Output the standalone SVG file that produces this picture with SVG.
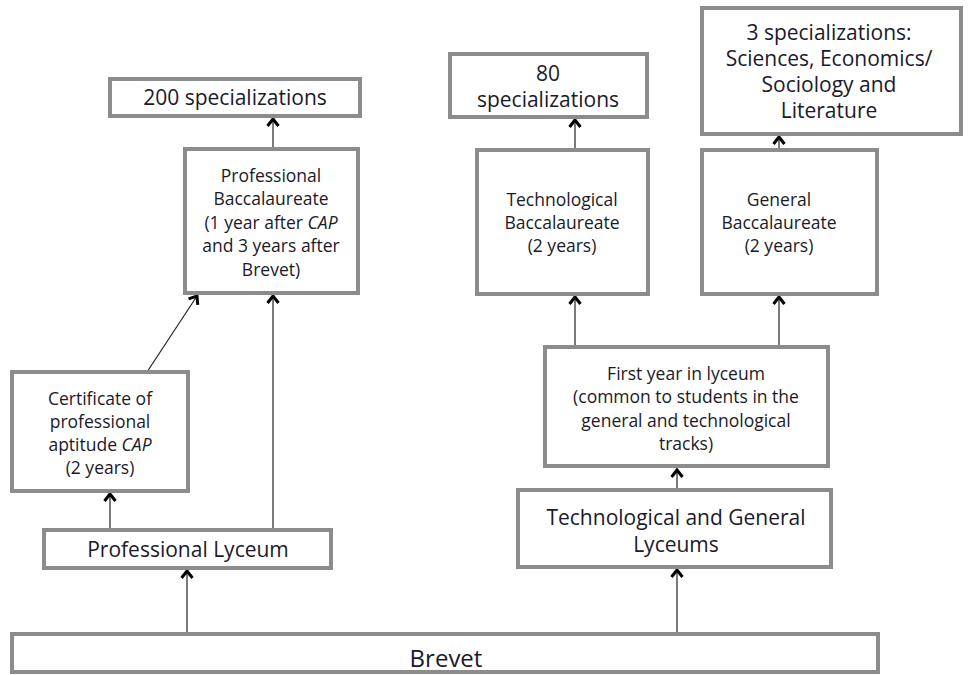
<svg xmlns="http://www.w3.org/2000/svg" width="980" height="675" viewBox="0 0 980 675">
<style>
.box{fill:#fff;stroke:#8c8c8c;stroke-width:4}
.t{font-family:"Open Sans","Liberation Sans",sans-serif;fill:#1a1a2a;text-anchor:middle}
.s{font-size:17.5px}
.l{font-size:21px}
.c{stroke:#222;stroke-width:1.2;fill:none;marker-end:url(#ah)}
</style>
<defs>
<marker id="ah" markerUnits="userSpaceOnUse" markerWidth="16" markerHeight="12" viewBox="-8 -2 16 12" refX="0" refY="0" orient="auto-start-reverse" overflow="visible">
<path d="M-5.5,7 L0,0 L5.5,7" transform="rotate(90)" fill="none" stroke="#000" stroke-width="3"/>
</marker>
</defs>
<rect width="980" height="675" fill="#fff"/>
<g id="connectors">
<line class="c" x1="187" y1="634" x2="187" y2="571"/>
<line class="c" x1="677" y1="634" x2="677" y2="570"/>
<line class="c" x1="110" y1="530" x2="110" y2="494"/>
<line class="c" x1="147" y1="372" x2="197" y2="296"/>
<line class="c" x1="273" y1="530" x2="273" y2="296"/>
<line class="c" x1="273" y1="149" x2="273" y2="119"/>
<line class="c" x1="677" y1="490" x2="677" y2="470"/>
<line class="c" x1="575" y1="347" x2="575" y2="297"/>
<line class="c" x1="779" y1="347" x2="779" y2="297"/>
<line class="c" x1="575" y1="150" x2="575" y2="120"/>
<line class="c" x1="779" y1="157" x2="779" y2="137"/>
</g>
<g id="brevet">
<rect class="box" x="12" y="634" width="866" height="38"/>
<text class="t" x="446" y="667" style="font-size:24px">Brevet</text>
</g>
<g id="professional-lyceum">
<rect class="box" x="44" y="530" width="287" height="38"/>
<text class="t l" x="188" y="557">Professional Lyceum</text>
</g>
<g id="cap">
<rect class="box" x="12" y="372" width="176" height="119"/>
<text class="t s" x="100" y="405">Certificate of</text>
<text class="t s" x="100" y="428">professional</text>
<text class="t s" x="100" y="451">aptitude <tspan font-style="italic">CAP</tspan></text>
<text class="t s" x="100" y="474">(2 years)</text>
</g>
<g id="professional-bacc">
<rect class="box" x="185" y="149" width="173" height="144"/>
<text class="t s" x="271" y="182">Professional</text>
<text class="t s" x="271" y="205">Baccalaureate</text>
<text class="t s" x="271" y="229">(1 year after <tspan font-style="italic">CAP</tspan></text>
<text class="t s" x="271" y="252">and 3 years after</text>
<text class="t s" x="271" y="276">Brevet)</text>
</g>
<g id="spec-200">
<rect class="box" x="110" y="79" width="250" height="37"/>
<text class="t l" x="235" y="105">200 specializations</text>
</g>
<g id="tg-lyceums">
<rect class="box" x="518" y="490" width="313" height="77"/>
<text class="t l" x="676" y="525">Technological and General</text>
<text class="t l" x="676" y="552">Lyceums</text>
</g>
<g id="first-year">
<rect class="box" x="545" y="347" width="283" height="119"/>
<text class="t s" x="686" y="380">First year in lyceum</text>
<text class="t s" x="686" y="403">(common to students in the</text>
<text class="t s" x="686" y="427">general and technological</text>
<text class="t s" x="686" y="450">tracks)</text>
</g>
<g id="tech-bacc">
<rect class="box" x="477" y="150" width="171" height="144"/>
<text class="t s" x="562" y="206">Technological</text>
<text class="t s" x="562" y="229">Baccalaureate</text>
<text class="t s" x="562" y="252">(2 years)</text>
</g>
<g id="spec-80">
<rect class="box" x="450" y="54" width="197" height="63"/>
<text class="t l" x="548" y="81">80</text>
<text class="t l" x="548" y="107">specializations</text>
</g>
<g id="general-bacc">
<rect class="box" x="702" y="150" width="175" height="144"/>
<text class="t s" x="779" y="206">General</text>
<text class="t s" x="779" y="229">Baccalaureate</text>
<text class="t s" x="779" y="252">(2 years)</text>
</g>
<g id="spec-3">
<rect class="box" x="702" y="8" width="259" height="126"/>
<text class="t l" x="829" y="40">3 specializations:</text>
<text class="t l" x="829" y="66">Sciences, Economics/</text>
<text class="t l" x="829" y="92">Sociology and</text>
<text class="t l" x="829" y="118">Literature</text>
</g>
</svg>
